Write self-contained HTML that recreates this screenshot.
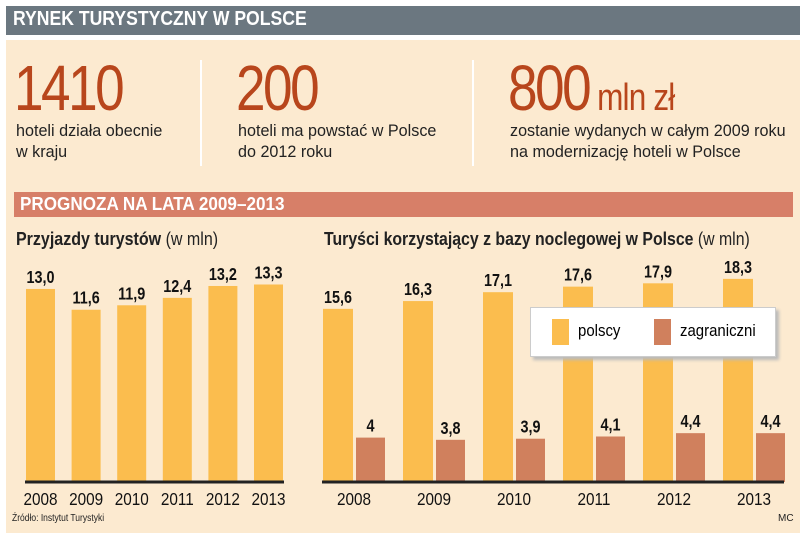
<!DOCTYPE html>
<html><head><meta charset="utf-8">
<style>
body{margin:0;width:805px;height:547px;background:#fff;overflow:hidden;font-family:"Liberation Sans",sans-serif;}
.abs{position:absolute;white-space:nowrap;}
.big{color:#b8461c;font-size:64px;letter-spacing:-3px;line-height:1;transform:scaleX(.83);transform-origin:0 0;}
.desc{color:#222;font-size:17px;line-height:21px;transform:scaleX(.95);transform-origin:0 0;}
</style></head><body>
<div class="abs" style="left:6px;top:6px;width:794px;height:29px;background:#6b7780;"></div>
<div class="abs" style="left:13px;top:8px;color:#fff;font-weight:bold;font-size:20px;transform:scaleX(.88);transform-origin:0 0;">RYNEK TURYSTYCZNY W POLSCE</div>
<div class="abs" style="left:6px;top:40px;width:794px;height:493px;background:#fcead0;"></div>
<div class="abs" style="left:200px;top:60px;width:2px;height:106px;background:#fff;"></div>
<div class="abs" style="left:472px;top:60px;width:2px;height:106px;background:#fff;"></div>
<div class="abs big" style="left:14px;top:56px;">1410</div>
<div class="abs desc" style="left:16px;top:120px;">hoteli działa obecnie<br>w kraju</div>
<div class="abs big" style="left:236px;top:56px;">200</div>
<div class="abs desc" style="left:238px;top:120px;">hoteli ma powstać w Polsce<br>do 2012 roku</div>
<div class="abs big" style="left:508px;top:56px;">800<span style="font-size:38px;letter-spacing:-1px"> mln zł</span></div>
<div class="abs desc" style="left:510px;top:120px;">zostanie wydanych w całym 2009 roku<br>na modernizację hoteli w Polsce</div>
<div class="abs" style="left:14px;top:192px;width:779px;height:25px;background:#d77f68;"></div>
<div class="abs" style="left:20px;top:194px;color:#fff;font-weight:bold;font-size:18px;transform:scaleX(.95);transform-origin:0 0;">PROGNOZA NA LATA 2009–2013</div>
<div class="abs" style="left:16px;top:229px;font-size:18px;color:#222;transform:scaleX(.89);transform-origin:0 0;"><b>Przyjazdy turystów</b> (w mln)</div>
<div class="abs" style="left:324px;top:229px;font-size:18px;color:#222;transform:scaleX(.88);transform-origin:0 0;"><b>Turyści korzystający z bazy noclegowej w Polsce</b> (w mln)</div>
<svg class="abs" id="chart" style="left:0;top:0" width="805" height="547"></svg>
<div class="abs" style="left:530px;top:307px;width:244px;height:48px;background:#fff;border:1px solid #ccc;box-shadow:3px 3px 3px #bbb;">
<div class="abs" style="left:21px;top:11px;width:17px;height:26px;background:#fbbd4e;"></div>
<div class="abs" style="left:47px;top:13px;font-size:17px;transform:scaleX(.88);transform-origin:0 0;">polscy</div>
<div class="abs" style="left:123px;top:11px;width:17px;height:26px;background:#d0805d;"></div>
<div class="abs" style="left:149px;top:13px;font-size:17px;transform:scaleX(.88);transform-origin:0 0;">zagraniczni</div>
</div>
<div class="abs" style="left:12px;top:513px;font-size:10px;color:#222;transform:scaleX(.85);transform-origin:0 0;">Źródło: Instytut Turystyki</div>
<div class="abs" style="left:778px;top:513px;font-size:10px;color:#222;">MC</div>
<script>
const years=["2008","2009","2010","2011","2012","2013"];
const arrivals=[13.0,11.6,11.9,12.4,13.2,13.3];
const arrivalLabels=["13,0","11,6","11,9","12,4","13,2","13,3"];
const polscy=[15.6,16.3,17.1,17.6,17.9,18.3];
const polscyLabels=["15,6","16,3","17,1","17,6","17,9","18,3"];
const zagr=[4,3.8,3.9,4.1,4.4,4.4];
const zagrLabels=["4","3,8","3,9","4,1","4,4","4,4"];
const svg=document.getElementById('chart');
const NS='http://www.w3.org/2000/svg';
const base=482;
function yL(v){return base-v*14.85;}
function xL(i){return 26+i*45.6;}
function yR(v){return base-v*11.1;}
function xR(i){return 323+i*80;}
function mk(tag,attrs){const e=document.createElementNS(NS,tag);for(const k in attrs)e.setAttribute(k,attrs[k]);svg.appendChild(e);return e;}
function txt(x,y,s,size,bold,sx){const t=mk('text',{x:x,y:y,'text-anchor':'middle','font-size':size,'font-weight':bold?'bold':'normal',fill:'#111','font-family':'"Liberation Sans",sans-serif',transform:'translate('+x+',0) scale('+sx+',1) translate('+(-x)+',0)'});t.textContent=s;return t;}
arrivals.forEach((v,i)=>{
 const r=mk('rect',{x:xL(i),y:yL(v),width:29,height:base-yL(v),fill:'#fbbd4e'});
 
 
 const t=txt(xL(i)+14.5,yL(v)-6,arrivalLabels[i],18,true,0.8);
 
 
 const y=txt(xL(i)+14.5,505,years[i],18,false,0.85);
 
 
});
polscy.forEach((v,i)=>{
 const r=mk('rect',{x:xR(i),y:yR(v),width:30,height:base-yR(v),fill:'#fbbd4e'});
 
 
 const t=txt(xR(i)+15,yR(v)-6,polscyLabels[i],18,true,0.8);
 
 
 const z=zagr[i];
 const r2=mk('rect',{x:xR(i)+33,y:yR(z),width:29,height:base-yR(z),fill:'#d0805d'});
 
 
 const t2=txt(xR(i)+47.5,yR(z)-6,zagrLabels[i],18,true,0.8);
 
 
 const y=txt(xR(i)+31,505,years[i],18,false,0.85);
 
 
});
const a1=mk('line',{x1:25,x2:284,y1:base,y2:base,stroke:'#222','stroke-width':3});


const a2=mk('line',{x1:322,x2:784,y1:base,y2:base,stroke:'#222','stroke-width':3});


</script>
</body></html>
